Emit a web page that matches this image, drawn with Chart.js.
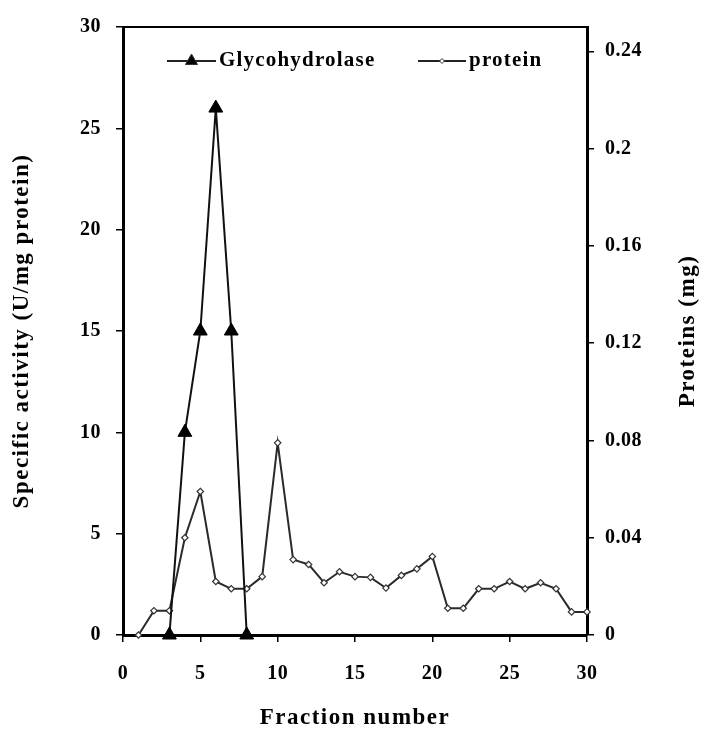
<!DOCTYPE html>
<html>
<head>
<meta charset="utf-8">
<script src="https://cdn.jsdelivr.net/npm/chart.js@4/dist/chart.umd.min.js"></script>
<style>
  html, body { margin: 0; padding: 0; background: #fff; }
  #wrap { width: 704px; height: 731px; }
</style>
</head>
<body>
<div id="wrap"><canvas id="chart" width="704" height="731"></canvas></div>
<script>
// fraction numbers and protein (mg) per fraction, right axis
const fractions = [1, 2, 3, 4, 5, 6, 7, 8, 9, 10, 11, 12, 13, 14, 15, 16, 17, 18, 19, 20, 21, 22, 23, 24, 25, 26, 27, 28, 29, 30];
const proteinMg = [0, 0.01, 0.01, 0.04, 0.059, 0.022, 0.019, 0.019, 0.024, 0.079,
  0.031, 0.029, 0.0215, 0.026, 0.024, 0.0237, 0.0193, 0.0245, 0.0272, 0.0323,
  0.011, 0.011, 0.019, 0.019, 0.022, 0.019, 0.0215, 0.019, 0.0095, 0.0095];

// glycohydrolase specific activity (U/mg protein), left axis
const glycoFractions = [3, 4, 5, 6, 7, 8];
const glycoActivity = [0, 10, 15, 26, 15, 0];

// tick labels
const xTicks = [0, 5, 10, 15, 20, 25, 30];
const leftTicks = [0, 5, 10, 15, 20, 25, 30];
const rightTicks = [0, 0.04, 0.08, 0.12, 0.16, 0.2, 0.24];

const FONT = "'Liberation Serif', 'Times New Roman', serif";
const tickFont = { family: FONT, size: 20, weight: "bold" };

// ===== helpers =====
const fixedTicks = (arr) => (scale) => { scale.ticks = arr.map((v) => ({ value: v })); };
const gridOpts = { drawOnChartArea: false, drawTicks: true, tickLength: 7, color: "#000", lineWidth: 1.5 };
const borderOpts = { display: true, color: "#000", width: 3 };

// ticks spacing, top frame line, legend and axis titles
const decorPlugin = {
  id: "decor",
  beforeDraw(chart) {
    chart.ctx.letterSpacing = "0.5px";
  },
  beforeDatasetsDraw(chart) {
    const { ctx, chartArea: a } = chart;
    ctx.save();
    ctx.strokeStyle = "#000";
    ctx.lineWidth = 2;
    ctx.beginPath();
    ctx.moveTo(a.left - 1, a.top);
    ctx.lineTo(a.right + 1, a.top);
    ctx.stroke();
    ctx.restore();
  },
  afterDraw(chart) {
    const { ctx, chartArea: a } = chart;
    ctx.save();
    ctx.fillStyle = "#000";
    ctx.strokeStyle = "#000";

    // legend
    const ly = 61;
    const items = [
      { x0: 167, x1: 216, style: "triangle", r: 7, fill: "#000", label: chart.data.datasets[0].label },
      { x0: 418, x1: 466, style: "rectRot", r: 2.5, fill: "#fff", label: chart.data.datasets[1].label }
    ];
    ctx.font = "bold 21px " + FONT;
    ctx.letterSpacing = "1.2px";
    ctx.textBaseline = "middle";
    ctx.textAlign = "left";
    items.forEach((it) => {
      ctx.lineWidth = 2;
      ctx.strokeStyle = "#222";
      ctx.beginPath();
      ctx.moveTo(it.x0, ly);
      ctx.lineTo(it.x1, ly);
      ctx.stroke();
      ctx.fillStyle = it.fill;
      ctx.strokeStyle = "#333";
      ctx.lineWidth = 1;
      Chart.helpers.drawPoint(ctx, { pointStyle: it.style, radius: it.r, rotation: 0, borderWidth: 1 }, (it.x0 + it.x1) / 2, ly);
      ctx.fillStyle = "#000";
      ctx.fillText(it.label, it.x1 + 3, ly);
    });

    // axis titles
    ctx.font = "bold 23px " + FONT;
    ctx.letterSpacing = "1.5px";
    ctx.textAlign = "center";
    ctx.fillText("Fraction number", (a.left + a.right) / 2, 718);

    const midY = (a.top + a.bottom) / 2;
    [[22, "Specific activity (U/mg protein)"], [688, "Proteins (mg)"]].forEach(([x, t]) => {
      ctx.save();
      ctx.translate(x, midY);
      ctx.rotate(-Math.PI / 2);
      ctx.fillText(t, 0, 0);
      ctx.restore();
    });
    ctx.restore();
  }
};

new Chart(document.getElementById("chart"), {
  type: "line",
  data: {
    datasets: [
      {
        label: "Glycohydrolase",
        data: glycoFractions.map((f, i) => ({ x: f, y: glycoActivity[i] })),
        yAxisID: "y",
        borderColor: "#111",
        borderWidth: 2,
        pointStyle: "triangle",
        pointRadius: 8,
        pointBackgroundColor: "#000",
        pointBorderColor: "#000",
        pointBorderWidth: 1,
        tension: 0,
        clip: false
      },
      {
        label: "protein",
        data: fractions.map((f, i) => ({ x: f, y: proteinMg[i] })),
        yAxisID: "y1",
        borderColor: "#2a2a2a",
        borderWidth: 2,
        pointStyle: "rectRot",
        pointRadius: 3.2,
        pointBackgroundColor: "#fff",
        pointBorderColor: "#333",
        pointBorderWidth: 1.2,
        tension: 0,
        clip: false
      }
    ]
  },
  options: {
    responsive: false,
    animation: false,
    devicePixelRatio: 1,
    layout: { padding: { top: 22, left: 0, right: 0, bottom: 0 } },
    plugins: { legend: { display: false }, tooltip: { enabled: false } },
    scales: {
      x: {
        type: "linear",
        position: "bottom",
        min: 0,
        max: 30,
        afterBuildTicks: fixedTicks(xTicks),
        afterFit: (s) => { s.height = 96; },
        ticks: { font: tickFont, color: "#000", padding: 20 },
        grid: gridOpts,
        border: borderOpts
      },
      y: {
        type: "linear",
        position: "left",
        min: 0,
        max: 30,
        afterBuildTicks: fixedTicks(leftTicks),
        afterFit: (s) => { s.width = 123; },
        ticks: { font: tickFont, color: "#000", padding: 15 },
        grid: gridOpts,
        border: borderOpts
      },
      y1: {
        type: "linear",
        position: "right",
        min: 0,
        max: 0.25,
        afterBuildTicks: fixedTicks(rightTicks),
        afterFit: (s) => { s.width = 117; },
        ticks: { font: tickFont, color: "#000", padding: 11, callback: (v) => String(+v.toFixed(2)) },
        grid: gridOpts,
        border: borderOpts
      }
    }
  },
  plugins: [decorPlugin]
});
</script>
</body>
</html>
